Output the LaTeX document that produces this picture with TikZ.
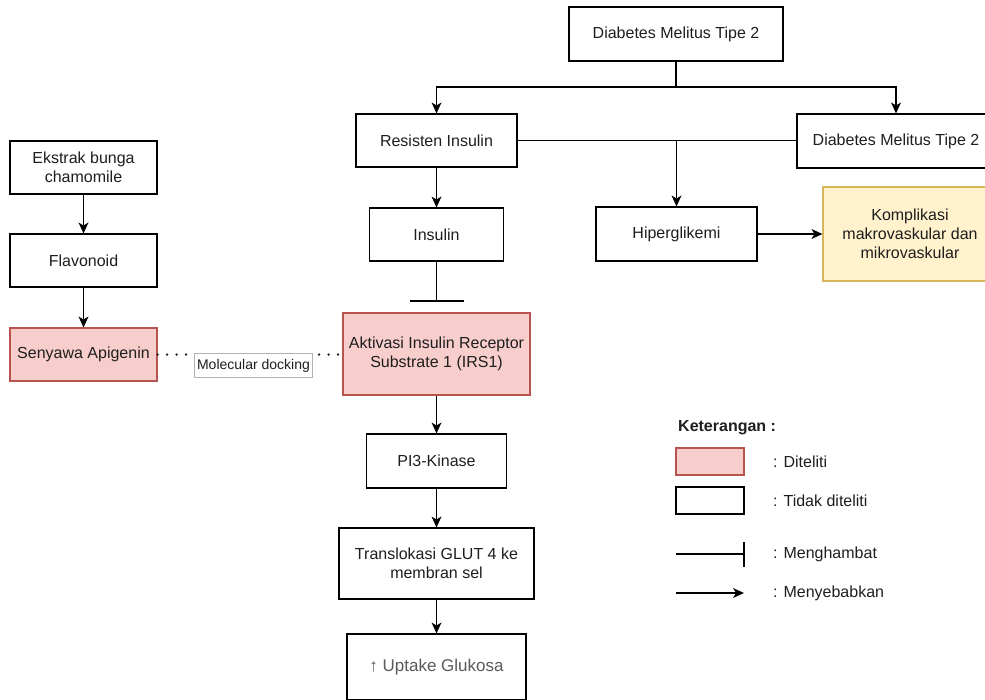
\documentclass[tikz,border=0pt]{standalone}
\usepackage{fontspec}
\setmainfont{Liberation Sans}
\usetikzlibrary{arrows.meta}
\definecolor{pinkfill}{HTML}{F8CECC}
\definecolor{pinkdraw}{HTML}{B85450}
\definecolor{yelfill}{HTML}{FFF2CC}
\definecolor{yeldraw}{HTML}{D6B656}
\definecolor{txt}{HTML}{1E1E1E}
\definecolor{uptxt}{HTML}{5A5A5A}
\tikzset{
  box/.style={draw=black, line width=1.1pt, fill=white, inner sep=0pt, align=center,
    text=txt, font=\fontsize{16}{19}\selectfont},
  pinkbox/.style={box, draw=pinkdraw, fill=pinkfill},
  yelbox/.style={box, draw=yeldraw, fill=yelfill},
  conn/.style={line width=1.1pt, draw=black},
  arr/.style={conn, -{Stealth[length=11pt,width=10pt,inset=3pt,line width=0pt]}},
  dotline/.style={line width=2.6pt, line cap=round, dash pattern=on 0pt off 9.5pt, draw=txt},
  lbl/.style={text=txt, font=\fontsize{16}{19}\selectfont, anchor=west, inner sep=0pt},
}
\begin{document}
\begin{tikzpicture}[x=1pt,y=-1pt]
\useasboundingbox (0,0) rectangle (985,699);
% main column
\node[box, minimum width=214pt, minimum height=54pt] (top) at (676,34) {Diabetes Melitus Tipe 2};
\node[box, minimum width=161pt, minimum height=53pt] (res) at (436.5,140.5) {Resisten Insulin};
\node[box, minimum width=198pt, minimum height=54pt] (dm2) at (896,141) {Diabetes Melitus Tipe 2};
\node[box, minimum width=134pt, minimum height=53pt] (ins) at (436.5,234.5) {Insulin};
\node[box, minimum width=161pt, minimum height=54pt] (hip) at (676.5,234) {Hiperglikemi};
\node[yelbox, minimum width=174pt, minimum height=94pt] (kom) at (910,234) {Komplikasi\\makrovaskular dan\\mikrovaskular};
\node[pinkbox, minimum width=187pt, minimum height=82pt] (irs) at (436.5,354) {Aktivasi Insulin Receptor\\Substrate 1 (IRS1)};
\node[box, minimum width=140pt, minimum height=54pt] (pi3) at (436.5,461) {PI3-Kinase};
\node[box, minimum width=195pt, minimum height=71pt] (glut) at (436.5,563.5) {Translokasi GLUT 4 ke\\membran sel};
\node[box, minimum width=179pt, minimum height=66pt, text=uptxt, font=\fontsize{17}{20}\selectfont] (upt) at (436.5,667) {↑ Uptake Glukosa};
% left column
\node[box, minimum width=147pt, minimum height=53pt] (eks) at (83.5,167.5) {Ekstrak bunga\\chamomile};
\node[box, minimum width=147pt, minimum height=53pt] (flav) at (83.5,260.5) {Flavonoid};
\node[pinkbox, minimum width=147pt, minimum height=53pt] (seny) at (83.5,354.5) {Senyawa Apigenin};
% connectors
\coordinate (j1) at (676,87);
\draw[conn] (top.south) -- (j1);
\draw[arr] (j1) -| (res.north);
\draw[arr] (j1) -| (dm2.north);
\draw[conn] (res.east) -- (res.east -| dm2.west);
\coordinate (j2) at (hip.north |- res.east);
\draw[arr] (j2) -- (hip.north);
\draw[arr] (res) -- (ins);
\draw[arr] (hip) -- (kom);
\coordinate (tb) at (436.5,301);
\draw[conn] (ins.south) -- (tb);
\draw[conn] ([xshift=-27pt]tb) -- ([xshift=27pt]tb);
\draw[arr] (irs) -- (pi3);
\draw[arr] (pi3) -- (glut);
\draw[arr] (glut) -- (upt);
\draw[arr] (eks) -- (flav);
\draw[arr] (flav) -- (seny);
\draw[dotline] (seny.east) -- (seny.east -| irs.west);
\node[draw=black!30, line width=0.6pt, fill=white, text=txt, inner xsep=2.5pt, minimum height=24pt,
  font=\fontsize{14}{16}\selectfont] (dock) at (253.5,365.5) {Molecular docking};
% legend
\node[text=txt, font=\fontsize{16}{19}\selectfont\bfseries, anchor=west, inner sep=0pt] (ket) at (678,428) {Keterangan :};
\node[pinkbox, minimum width=68pt, minimum height=27pt] (lgp) at (710,461.5) {};
\node[box, minimum width=68pt, minimum height=27pt] (lgw) at (710,500.5) {};
\coordinate (lt1) at (676,554); \coordinate (lt2) at (744,554);
\draw[conn] (lt1) -- (lt2);
\draw[conn] ([yshift=-12.5pt]lt2) -- ([yshift=12.5pt]lt2);
\coordinate (la1) at (676,593); \coordinate (la2) at (744,593);
\draw[arr] (la1) -- (la2);
\node[lbl] (t1) at (773,461.5) {: Diteliti};
\node[lbl] (t2) at (773,500.5) {: Tidak diteliti};
\node[lbl] (t3) at (773,554) {: Menghambat};
\node[lbl] (t4) at (773,593) {: Menyebabkan};
\end{tikzpicture}
\end{document}
